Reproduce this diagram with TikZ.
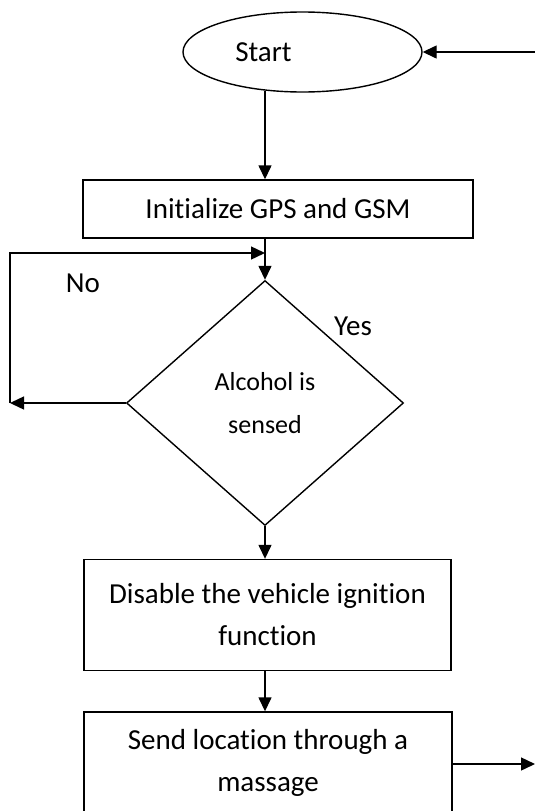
\documentclass[tikz,border=0pt]{standalone}
\usepackage{fontspec}
\setmainfont[Ligatures={NoCommon}]{Carlito}
\usetikzlibrary{shapes.geometric,arrows.meta}
\tikzset{
  box/.style={draw,line width=1.4pt,align=center,inner sep=0pt},
  flow/.style={line width=1.4pt,-{Triangle[length=14pt,width=13pt]}},
}
\begin{document}
\begin{tikzpicture}[x=1pt,y=-1pt,font=\fontsize{29}{42}\selectfont]
\useasboundingbox (0,0) rectangle (535,811);
\clip (0,0) rectangle (535,811);
% nodes
\node[box,ellipse,minimum width=239pt,minimum height=80pt,
  label={[xshift=-39pt]center:Start}] (start) at (302.5,52) {};
\node[box,minimum width=390pt,minimum height=58pt] (init) at (278,209) {Initialize GPS and GSM};
\node[box,diamond,minimum width=277pt,minimum height=245pt,font=\fontsize{26}{43}\selectfont] (alc) at (265,403) {Alcohol is\\sensed};
\node[box,minimum width=367pt,minimum height=111pt] (off) at (267.5,615) {Disable the vehicle ignition\\function};
\node[box,minimum width=368pt,minimum height=102pt] (send) at (268,763) {Send location through a\\massage};
\node (yes) at (353,326) {Yes};
\node (no) at (83,283) {No};
\coordinate (back) at (540,52);
\coordinate (noend) at (10,403);
\coordinate (nocorner) at (10,253);
\coordinate (out) at (535,764);
% connectors
\draw[flow] (back) -- (start.east);
\draw[flow] (alc.north |- start.south) ++(0,-2) -- (alc.north |- init.north);
\draw[flow] (alc.north |- init.south) -- (alc.north);
\draw[flow] (alc.west) -- (noend);
\draw[flow] (noend) -- (nocorner) -- (alc.north |- nocorner);
\draw[flow] (alc.south) -- (alc.south |- off.north);
\draw[flow] (alc.south |- off.south) -- (alc.south |- send.north);
\draw[flow] (send.east |- out) -- (out);
\end{tikzpicture}
\end{document}
